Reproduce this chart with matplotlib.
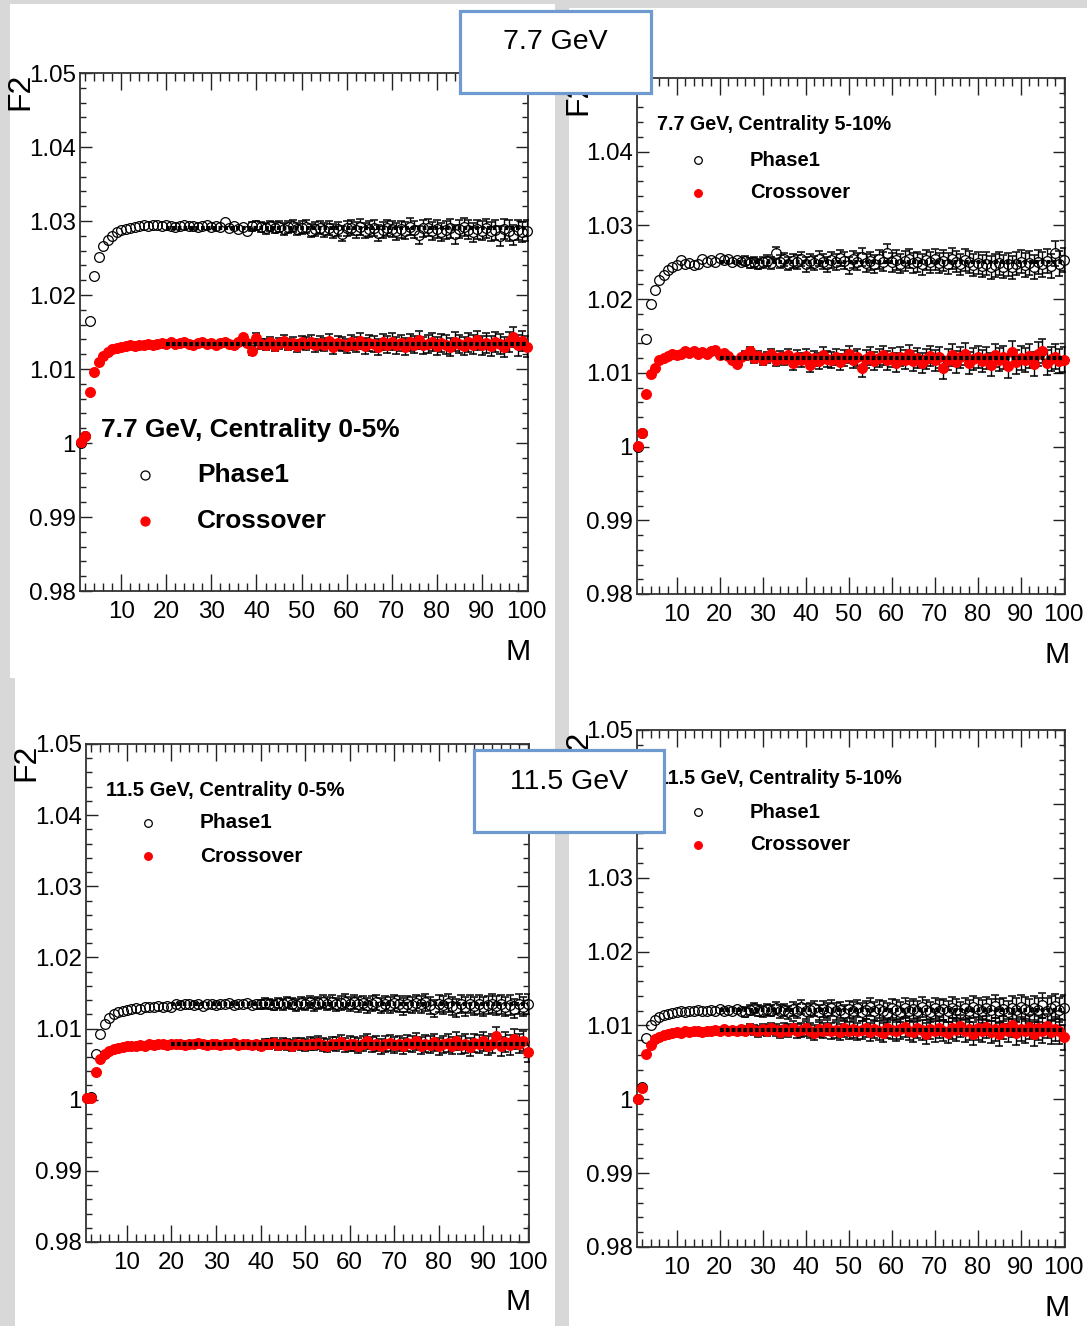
import numpy as np
import matplotlib
matplotlib.use('Agg')
import matplotlib.pyplot as plt
from matplotlib import font_manager
from matplotlib.patches import Rectangle

# ---------------- data ----------------
M = list(range(1, 101))

# 7.7 GeV, centrality 0-5%
f2_77_c05_phase1 = [
    1.0000, 1.0010, 1.0165, 1.0226, 1.0252, 1.0266, 1.0275, 1.0280, 1.0285, 1.0288,
    1.0289, 1.0291, 1.0292, 1.0293, 1.0294, 1.0293, 1.0294, 1.0294, 1.0293, 1.0294,
    1.0293, 1.0292, 1.0293, 1.0294, 1.0293, 1.0293, 1.0292, 1.0293, 1.0294, 1.0292,
    1.0293, 1.0292, 1.0298, 1.0291, 1.0293, 1.0289, 1.0292, 1.0286, 1.0293, 1.0294,
    1.0292, 1.0290, 1.0293, 1.0291, 1.0292, 1.0289, 1.0292, 1.0293, 1.0289, 1.0291,
    1.0292, 1.0287, 1.0289, 1.0291, 1.0288, 1.0290, 1.0286, 1.0289, 1.0283, 1.0290,
    1.0291, 1.0288, 1.0292, 1.0287, 1.0289, 1.0291, 1.0284, 1.0288, 1.0291, 1.0289,
    1.0286, 1.0289, 1.0287, 1.0292, 1.0288, 1.0281, 1.0290, 1.0291, 1.0287, 1.0289,
    1.0285, 1.0288, 1.0290, 1.0282, 1.0289, 1.0292, 1.0288, 1.0285, 1.0289, 1.0287,
    1.0290, 1.0286, 1.0288, 1.0280, 1.0289, 1.0287, 1.0281, 1.0288, 1.0285, 1.0287]
f2_77_c05_crossover = [
    1.0002, 1.0009, 1.0069, 1.0096, 1.0110, 1.0117, 1.0123, 1.0127, 1.0129, 1.0130,
    1.0131, 1.0132, 1.0131, 1.0133, 1.0132, 1.0134, 1.0133, 1.0134, 1.0135, 1.0134,
    1.0136, 1.0134, 1.0135, 1.0137, 1.0134, 1.0133, 1.0135, 1.0136, 1.0134, 1.0135,
    1.0133, 1.0135, 1.0136, 1.0134, 1.0133, 1.0136, 1.0143, 1.0135, 1.0125, 1.0142,
    1.0134, 1.0133, 1.0136, 1.0131, 1.0135, 1.0138, 1.0133, 1.0135, 1.0131, 1.0136,
    1.0134, 1.0137, 1.0132, 1.0135, 1.0133, 1.0138, 1.0130, 1.0135, 1.0134, 1.0131,
    1.0136, 1.0133, 1.0138, 1.0131, 1.0135, 1.0134, 1.0130, 1.0136, 1.0133, 1.0137,
    1.0132, 1.0135, 1.0130, 1.0136, 1.0133, 1.0139, 1.0132, 1.0134, 1.0136, 1.0131,
    1.0135, 1.0133, 1.0130, 1.0137, 1.0134, 1.0131, 1.0136, 1.0133, 1.0139, 1.0132,
    1.0135, 1.0131, 1.0137, 1.0134, 1.0130, 1.0136, 1.0143, 1.0132, 1.0138, 1.0130]

# 7.7 GeV, centrality 5-10%
f2_77_c510_phase1 = [
    1.0000, 1.0019, 1.0146, 1.0194, 1.0212, 1.0226, 1.0233, 1.0240, 1.0244, 1.0246,
    1.0253, 1.0248, 1.0249, 1.0246, 1.0248, 1.0254, 1.0250, 1.0253, 1.0251, 1.0256,
    1.0253, 1.0254, 1.0251, 1.0253, 1.0250, 1.0252, 1.0249, 1.0251, 1.0248, 1.0250,
    1.0252, 1.0249, 1.0262, 1.0251, 1.0254, 1.0248, 1.0252, 1.0250, 1.0254, 1.0247,
    1.0252, 1.0249, 1.0255, 1.0251, 1.0247, 1.0253, 1.0250, 1.0256, 1.0252, 1.0246,
    1.0254, 1.0251, 1.0257, 1.0249, 1.0252, 1.0248, 1.0254, 1.0251, 1.0262, 1.0250,
    1.0253, 1.0248, 1.0252, 1.0255, 1.0249, 1.0251, 1.0247, 1.0253, 1.0250, 1.0254,
    1.0249, 1.0252, 1.0248, 1.0255, 1.0251, 1.0247, 1.0253, 1.0250, 1.0246, 1.0249,
    1.0245, 1.0248, 1.0243, 1.0246, 1.0249, 1.0244, 1.0247, 1.0243, 1.0248, 1.0251,
    1.0246, 1.0249, 1.0244, 1.0250, 1.0247, 1.0252, 1.0245, 1.0262, 1.0248, 1.0253]
f2_77_c510_crossover = [
    1.0001, 1.0019, 1.0071, 1.0098, 1.0106, 1.0118, 1.0120, 1.0123, 1.0125, 1.0124,
    1.0126, 1.0129, 1.0127, 1.0129, 1.0126, 1.0128, 1.0125, 1.0130, 1.0131, 1.0124,
    1.0127, 1.0123, 1.0118, 1.0112, 1.0121, 1.0124, 1.0129, 1.0120, 1.0123, 1.0118,
    1.0121, 1.0125, 1.0117, 1.0122, 1.0119, 1.0124, 1.0113, 1.0121, 1.0118, 1.0123,
    1.0111, 1.0120, 1.0116, 1.0124, 1.0119, 1.0117, 1.0122, 1.0115, 1.0120, 1.0125,
    1.0118, 1.0121, 1.0107, 1.0119, 1.0123, 1.0116, 1.0120, 1.0124, 1.0117, 1.0121,
    1.0114, 1.0122, 1.0118, 1.0125, 1.0116, 1.0120, 1.0113, 1.0119, 1.0123, 1.0117,
    1.0121, 1.0106, 1.0118, 1.0124, 1.0115, 1.0121, 1.0126, 1.0114, 1.0119, 1.0122,
    1.0116, 1.0120, 1.0111, 1.0124, 1.0118, 1.0121, 1.0109, 1.0128, 1.0115, 1.0120,
    1.0117, 1.0123, 1.0112, 1.0126, 1.0130, 1.0114, 1.0119, 1.0122, 1.0116, 1.0118]

# 11.5 GeV, centrality 0-5%
f2_115_c05_phase1 = [
    1.0003, 1.0004, 1.0064, 1.0093, 1.0106, 1.0115, 1.0120, 1.0123, 1.0124, 1.0126,
    1.0127, 1.0129, 1.0128, 1.0130, 1.0131, 1.0130, 1.0132, 1.0131, 1.0132, 1.0130,
    1.0134, 1.0133, 1.0134, 1.0135, 1.0133, 1.0134, 1.0132, 1.0135, 1.0134, 1.0133,
    1.0135, 1.0134, 1.0136, 1.0133, 1.0135, 1.0134, 1.0136, 1.0133, 1.0135, 1.0134,
    1.0136, 1.0134, 1.0133, 1.0136, 1.0134, 1.0137, 1.0135, 1.0133, 1.0136, 1.0135,
    1.0137, 1.0134, 1.0136, 1.0138, 1.0135, 1.0137, 1.0134, 1.0136, 1.0138, 1.0135,
    1.0137, 1.0134, 1.0136, 1.0133, 1.0135, 1.0137, 1.0132, 1.0135, 1.0133, 1.0136,
    1.0134, 1.0131, 1.0135, 1.0133, 1.0136, 1.0134, 1.0137, 1.0133, 1.0128, 1.0135,
    1.0133, 1.0136, 1.0132, 1.0129, 1.0134, 1.0131, 1.0135, 1.0132, 1.0134, 1.0131,
    1.0133, 1.0135, 1.0132, 1.0134, 1.0131, 1.0133, 1.0128, 1.0134, 1.0131, 1.0135]
f2_115_c05_crossover = [
    1.0003, 1.0003, 1.0039, 1.0057, 1.0064, 1.0068, 1.0071, 1.0073, 1.0074, 1.0075,
    1.0076, 1.0075, 1.0077, 1.0076, 1.0078, 1.0077, 1.0078, 1.0079, 1.0077, 1.0078,
    1.0079, 1.0078, 1.0077, 1.0079, 1.0078, 1.0080, 1.0078, 1.0077, 1.0079, 1.0078,
    1.0077, 1.0079, 1.0078, 1.0080, 1.0077, 1.0078, 1.0079, 1.0077, 1.0078, 1.0076,
    1.0079, 1.0078, 1.0080, 1.0077, 1.0079, 1.0078, 1.0076, 1.0079, 1.0078, 1.0077,
    1.0079, 1.0078, 1.0080, 1.0077, 1.0076, 1.0079, 1.0078, 1.0081, 1.0077, 1.0079,
    1.0078, 1.0076, 1.0079, 1.0082, 1.0077, 1.0079, 1.0075, 1.0078, 1.0080, 1.0077,
    1.0079, 1.0076, 1.0080, 1.0078, 1.0082, 1.0076, 1.0079, 1.0077, 1.0081, 1.0075,
    1.0078, 1.0080, 1.0076, 1.0083, 1.0077, 1.0079, 1.0074, 1.0080, 1.0078, 1.0082,
    1.0076, 1.0079, 1.0089, 1.0075, 1.0081, 1.0077, 1.0085, 1.0079, 1.0083, 1.0067]

# 11.5 GeV, centrality 5-10%
f2_115_c510_phase1 = [
    1.0000, 1.0016, 1.0083, 1.0100, 1.0107, 1.0111, 1.0114, 1.0116, 1.0117, 1.0118,
    1.0119, 1.0118, 1.0120, 1.0119, 1.0121, 1.0120, 1.0119, 1.0121, 1.0120, 1.0122,
    1.0120, 1.0121, 1.0119, 1.0122, 1.0120, 1.0118, 1.0121, 1.0123, 1.0120, 1.0119,
    1.0122, 1.0120, 1.0124, 1.0119, 1.0121, 1.0118, 1.0122, 1.0120, 1.0125, 1.0119,
    1.0121, 1.0123, 1.0118, 1.0122, 1.0120, 1.0124, 1.0119, 1.0121, 1.0117, 1.0122,
    1.0120, 1.0123, 1.0118, 1.0121, 1.0125, 1.0119, 1.0122, 1.0120, 1.0117, 1.0123,
    1.0121, 1.0118, 1.0124, 1.0120, 1.0122, 1.0119, 1.0125, 1.0121, 1.0118, 1.0123,
    1.0120, 1.0122, 1.0119, 1.0124, 1.0121, 1.0117, 1.0123, 1.0120, 1.0125, 1.0122,
    1.0119, 1.0123, 1.0121, 1.0126, 1.0120, 1.0122, 1.0118, 1.0124, 1.0121, 1.0125,
    1.0122, 1.0119, 1.0124, 1.0121, 1.0127, 1.0120, 1.0123, 1.0126, 1.0121, 1.0124]
f2_115_c510_crossover = [
    1.0000, 1.0015, 1.0061, 1.0074, 1.0081, 1.0085, 1.0087, 1.0089, 1.0090, 1.0091,
    1.0090, 1.0092, 1.0091, 1.0093, 1.0092, 1.0091, 1.0093, 1.0092, 1.0094, 1.0093,
    1.0095, 1.0093, 1.0094, 1.0092, 1.0095, 1.0093, 1.0096, 1.0094, 1.0092, 1.0095,
    1.0093, 1.0096, 1.0094, 1.0091, 1.0095, 1.0093, 1.0097, 1.0092, 1.0094, 1.0096,
    1.0093, 1.0090, 1.0095, 1.0093, 1.0097, 1.0092, 1.0094, 1.0091, 1.0096, 1.0093,
    1.0095, 1.0092, 1.0094, 1.0097, 1.0091, 1.0095, 1.0093, 1.0090, 1.0096, 1.0094,
    1.0092, 1.0095, 1.0098, 1.0093, 1.0091, 1.0096, 1.0094, 1.0089, 1.0095, 1.0092,
    1.0097, 1.0093, 1.0090, 1.0096, 1.0094, 1.0099, 1.0092, 1.0095, 1.0089, 1.0096,
    1.0093, 1.0098, 1.0091, 1.0095, 1.0088, 1.0097, 1.0093, 1.0100, 1.0090, 1.0095,
    1.0092, 1.0098, 1.0089, 1.0096, 1.0093, 1.0099, 1.0091, 1.0095, 1.0092, 1.0084]

# statistical errors (0-5% and 5-10% centrality)
err_c05 = [
    0.00002, 0.00003, 0.00004, 0.00005, 0.00006, 0.00007, 0.00008, 0.00010, 0.00011, 0.00012,
    0.00014, 0.00015, 0.00016, 0.00018, 0.00019, 0.00021, 0.00022, 0.00024, 0.00025, 0.00027,
    0.00029, 0.00030, 0.00032, 0.00034, 0.00035, 0.00037, 0.00039, 0.00041, 0.00043, 0.00045,
    0.00047, 0.00049, 0.00051, 0.00053, 0.00055, 0.00057, 0.00059, 0.00061, 0.00063, 0.00065,
    0.00067, 0.00069, 0.00071, 0.00073, 0.00075, 0.00077, 0.00079, 0.00081, 0.00083, 0.00085,
    0.00087, 0.00088, 0.00090, 0.00092, 0.00093, 0.00095, 0.00096, 0.00098, 0.00099, 0.00100,
    0.00101, 0.00103, 0.00104, 0.00105, 0.00106, 0.00107, 0.00108, 0.00109, 0.00110, 0.00111,
    0.00112, 0.00113, 0.00114, 0.00115, 0.00116, 0.00117, 0.00118, 0.00119, 0.00120, 0.00121,
    0.00122, 0.00123, 0.00124, 0.00125, 0.00126, 0.00127, 0.00128, 0.00129, 0.00130, 0.00131,
    0.00132, 0.00133, 0.00134, 0.00135, 0.00136, 0.00137, 0.00138, 0.00139, 0.00140, 0.00141]
err_c510 = [
    0.00003, 0.00004, 0.00006, 0.00008, 0.00009, 0.00012, 0.00014, 0.00017, 0.00020, 0.00022,
    0.00025, 0.00027, 0.00030, 0.00032, 0.00035, 0.00037, 0.00040, 0.00043, 0.00045, 0.00048,
    0.00050, 0.00053, 0.00055, 0.00058, 0.00060, 0.00063, 0.00065, 0.00068, 0.00071, 0.00073,
    0.00076, 0.00078, 0.00081, 0.00083, 0.00086, 0.00088, 0.00091, 0.00094, 0.00095, 0.00098,
    0.00099, 0.00101, 0.00103, 0.00105, 0.00106, 0.00108, 0.00110, 0.00111, 0.00113, 0.00115,
    0.00116, 0.00118, 0.00120, 0.00121, 0.00122, 0.00124, 0.00125, 0.00127, 0.00128, 0.00129,
    0.00130, 0.00132, 0.00133, 0.00134, 0.00135, 0.00136, 0.00138, 0.00139, 0.00139, 0.00141,
    0.00142, 0.00143, 0.00144, 0.00145, 0.00146, 0.00147, 0.00148, 0.00149, 0.00150, 0.00151,
    0.00152, 0.00153, 0.00154, 0.00155, 0.00156, 0.00156, 0.00157, 0.00158, 0.00159, 0.00160,
    0.00161, 0.00162, 0.00162, 0.00163, 0.00164, 0.00165, 0.00166, 0.00167, 0.00167, 0.00168]

# constant fits over M = 20..100
fit_range = [20, 100]
fit_phase1 = [1.0290, 1.0251, 1.0134, 1.0121]
fit_crossover = [1.0134, 1.0120, 1.0078, 1.0094]

panel_titles = ["7.7 GeV, Centrality 0-5%", "7.7 GeV, Centrality 5-10%",
                "11.5 GeV, Centrality 0-5%", "11.5 GeV, Centrality 5-10%"]
energy_boxes = ["7.7 GeV", "11.5 GeV"]
series_names = ["Phase1", "Crossover"]
y_ticks = [0.98, 0.99, 1.00, 1.01, 1.02, 1.03, 1.04, 1.05]
y_ticklabels = ["0.98", "0.99", "1", "1.01", "1.02", "1.03", "1.04", "1.05"]
x_ticks = [10, 20, 30, 40, 50, 60, 70, 80, 90, 100]
x_ticklabels = ["10", "20", "30", "40", "50", "60", "70", "80", "90", "100"]

# ---------------- fonts ----------------
names = {f.name for f in font_manager.fontManager.ttflist}
if 'Liberation Sans Narrow' in names:
    NFAM, SF = 'Liberation Sans Narrow', 1.0
else:
    NFAM, SF = 'Liberation Sans', 0.87
plt.rcParams['font.family'] = [NFAM, 'DejaVu Sans']

W, H = 1087, 1326
fig = plt.figure(figsize=(W / 100, H / 100), dpi=100)
fig.patch.set_facecolor('#d8d8d8')


def fx(px):
    return px / W


def fy(py):
    return 1 - py / H


def white(x0, y0, x1, y1):
    fig.add_artist(Rectangle((fx(x0), fy(y1)), (x1 - x0) / W, (y1 - y0) / H,
                             transform=fig.transFigure, facecolor='white',
                             edgecolor='none', zorder=-5))


white(10, 4, 555, 678)
white(15, 678, 555, 1326)
white(569, 8, 1087, 1326)

panels = [
    dict(box=(80, 73, 528, 591), ph=f2_77_c05_phase1, cr=f2_77_c05_crossover, err=err_c05,
         f2=(20, 73), mlab=(531, 652), title=(101, 430), t_fs=21.7, rows=(475, 521),
         mk_x=145, txt_x=197, l_fs=21.7, ms_leg=6.5),
    dict(box=(637, 78, 1065, 594), ph=f2_77_c510_phase1, cr=f2_77_c510_crossover, err=err_c510,
         f2=(578, 78), mlab=(1070, 655), title=(657, 125), t_fs=16.3, rows=(160, 193),
         mk_x=698, txt_x=750, l_fs=16.8, ms_leg=5.5),
    dict(box=(86, 744, 529, 1242), ph=f2_115_c05_phase1, cr=f2_115_c05_crossover, err=err_c05,
         f2=(26, 744), mlab=(531, 1302), title=(106, 790), t_fs=16.7, rows=(823, 856),
         mk_x=148, txt_x=200, l_fs=17.2, ms_leg=5.5),
    dict(box=(637, 730, 1065, 1247), ph=f2_115_c510_phase1, cr=f2_115_c510_crossover, err=err_c510,
         f2=(578, 730), mlab=(1070, 1308), title=(658, 778), t_fs=16.3, rows=(812, 845),
         mk_x=698, txt_x=750, l_fs=16.8, ms_leg=5.5),
]

x = np.array(M, dtype=float)
for i, p in enumerate(panels):
    l, t, r, b = p['box']
    ax = fig.add_axes([fx(l), fy(b), (r - l) / W, (b - t) / H])
    ax.set_facecolor('white')
    ax.set_xlim(0.8, 100.3)
    ax.set_ylim(0.98, 1.05)
    ax.set_yticks(y_ticks)
    ax.set_yticklabels(y_ticklabels)
    ax.set_xticks(x_ticks)
    ax.set_xticklabels(x_ticklabels)
    ax.set_xticks(np.arange(2, 101, 2), minor=True)
    ax.set_yticks(np.arange(0.98, 1.0501, 0.002), minor=True)
    ax.tick_params(axis='both', which='both', direction='in', top=True, right=True,
                   color='#222222', width=1.0, labelsize=20 * SF)
    ax.tick_params(axis='x', which='major', length=12, pad=7)
    ax.tick_params(axis='x', which='minor', length=6)
    ax.tick_params(axis='y', which='major', length=8.5, pad=3)
    ax.tick_params(axis='y', which='minor', length=4.3)
    for s in ax.spines.values():
        s.set_linewidth(1.3)
        s.set_color('#333333')

    # pixel -> data conversion for marker radius (error bars start at marker edge)
    y0p = ax.transData.transform((0, 1.0))[1]
    y1p = ax.transData.transform((0, 1.01))[1]
    rad = 4.6 * 0.01 / (y1p - y0p) * (fig.dpi / 100)
    e = np.array(p['err'])
    for vals, face, edge, z in [(p['ph'], 'none', 'black', 3), (p['cr'], 'red', 'red', 4)]:
        y = np.array(vals)
        m = e > rad
        ax.vlines(x[m], y[m] + rad, y[m] + e[m], color='black', lw=1.0, zorder=z)
        ax.vlines(x[m], y[m] - e[m], y[m] - rad, color='black', lw=1.0, zorder=z)
        ax.plot(x[m], y[m] + e[m], ls='none', marker='_', ms=6, mew=1.1, color='black', zorder=z)
        ax.plot(x[m], y[m] - e[m], ls='none', marker='_', ms=6, mew=1.1, color='black', zorder=z)
        ax.plot(x, y, ls='none', marker='o', ms=7, mfc=face, mec=edge, mew=0.9,
                zorder=z + 0.5, clip_on=False)
    ax.plot(fit_range, [fit_phase1[i]] * 2, color='black', lw=3.0,
            ls=(0, (0.9, 0.5)), zorder=6)
    ax.plot(fit_range, [fit_crossover[i]] * 2, color='black', lw=3.0,
            ls=(0, (0.9, 0.5)), zorder=6)

    # axis titles (ROOT style)
    fig.text(fx(p['f2'][0]), fy(p['f2'][1]), 'F2', rotation=90, ha='center', va='top',
             fontsize=23, family=['Liberation Sans', 'DejaVu Sans'], zorder=3)
    fig.text(fx(p['mlab'][0]), fy(p['mlab'][1]), 'M', ha='right', va='center',
             fontsize=25 * SF, zorder=3)

    # legend
    fig.text(fx(p['title'][0]), fy(p['title'][1]), panel_titles[i], ha='left', va='center',
             fontsize=p['t_fs'] * SF, fontweight='bold', zorder=3)
    ry1, ry2 = p['rows']
    fig.add_artist(plt.Line2D([fx(p['mk_x'])], [fy(ry1)], transform=fig.transFigure,
                              ls='none', marker='o', ms=p['ms_leg'], mfc='none', mec='black',
                              mew=0.9, zorder=3))
    fig.add_artist(plt.Line2D([fx(p['mk_x'])], [fy(ry2)], transform=fig.transFigure,
                              ls='none', marker='o', ms=p['ms_leg'], mfc='red', mec='red',
                              mew=0.9, zorder=3))
    fig.text(fx(p['txt_x']), fy(ry1), series_names[0], ha='left', va='center',
             fontsize=p['l_fs'] * SF, fontweight='bold', zorder=3)
    fig.text(fx(p['txt_x']), fy(ry2), series_names[1], ha='left', va='center',
             fontsize=p['l_fs'] * SF, fontweight='bold', zorder=3)

# energy boxes
for (bx0, by0, bx1, by1), (tx, ty), label in [((460, 11, 651, 93), (555, 42), energy_boxes[0]),
                                              ((474, 750, 664, 832), (569, 782), energy_boxes[1])]:
    fig.add_artist(Rectangle((fx(bx0), fy(by1)), (bx1 - bx0) / W, (by1 - by0) / H,
                             transform=fig.transFigure, facecolor='white',
                             edgecolor='#6f9ad0', lw=2.3, zorder=10))
    fig.text(fx(tx), fy(ty), label, ha='center', va='center', fontsize=20.5,
             family=['Liberation Sans', 'DejaVu Sans'], zorder=11)

fig.savefig('out.png', dpi=100, facecolor=fig.get_facecolor())
